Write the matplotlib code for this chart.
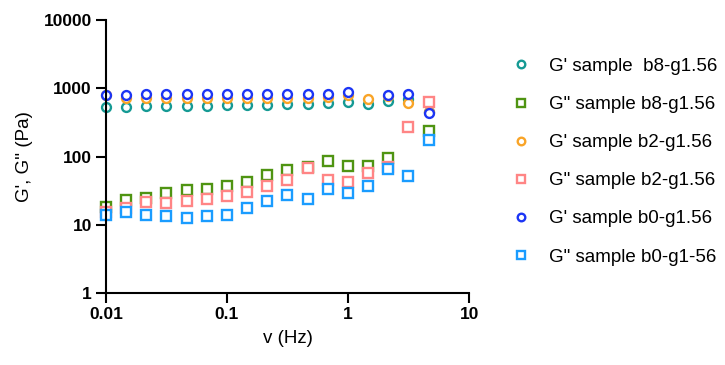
import numpy as np
import matplotlib.pyplot as plt

plt.rcParams['font.family'] = ['Liberation Sans', 'DejaVu Sans']

# frecuencias (Hz)
freq = [0.01, 0.0147, 0.0215, 0.0316, 0.0464, 0.0681, 0.1, 0.147, 0.215,
        0.316, 0.464, 0.681, 1.0, 1.47, 2.15, 3.16, 4.64]

# G' (circulos) y G'' (cuadrados), Pa
gp_b8 = [528, 530, 550, 555, 555, 560, 565, 570, 575, 580, 590, 610, 640, 590, 660, 690, 455]
gpp_b8 = [18, 23, 25, 29, 32, 33, 37, 43, 54, 64, 71, 87, 73, 73, 96, np.nan, 240]
gp_b2 = [800, 715, 715, 715, 715, 720, 720, 720, 720, 725, 730, 740, 800, 700, 770, 600, 455]
gpp_b2 = [15.6, 17.5, 21.8, 21, 22.3, 24, 26.4, 30.5, 37.4, 45.3, 67, 45.3, 42.8, 58, 71, 268, 640]
gp_b0 = [808, 810, 815, 815, 815, 820, 820, 820, 820, 825, 825, 830, 896, np.nan, 790, 830, 440]
gpp_b0 = [13.9, 15.6, 13.9, 13.5, 12.8, 13.5, 13.9, 17.5, 22.3, 27.3, 23.6, 33, 29.6, 37, 65, 52, 175]

series = [
    (gp_b8, 'o', '#159a94', "G' sample  b8-g1.56"),
    (gpp_b8, 's', '#4f9412', 'G" sample b8-g1.56'),
    (gp_b2, 'o', '#f9a427', "G' sample b2-g1.56"),
    (gpp_b2, 's', '#ff8585', 'G" sample b2-g1.56'),
    (gp_b0, 'o', '#1c35f5', "G' sample b0-g1.56"),
    (gpp_b0, 's', '#1a9cff', 'G" sample b0-g1-56'),
]

fig = plt.figure(figsize=(7.25, 3.65), dpi=100)
ax = fig.add_axes([0.146, 0.197, 0.501, 0.748])

for vals, mk, col, lab in series:
    ms = 6.4 if mk == 'o' else 6.6
    ax.plot(freq, vals, linestyle='none', marker=mk, markersize=ms,
            markerfacecolor='white', markeredgecolor=col, markeredgewidth=1.7,
            label=lab, clip_on=False)

ax.set_xscale('log')
ax.set_yscale('log')
ax.set_xlim(0.01, 10)
ax.set_ylim(1, 10000)
ax.set_xticks([0.01, 0.1, 1, 10])
ax.set_xticklabels(['0.01', '0.1', '1', '10'])
ax.set_yticks([1, 10, 100, 1000, 10000])
ax.set_yticklabels(['1', '10', '100', '1000', '10000'])
ax.minorticks_off()

for s in ['top', 'right']:
    ax.spines[s].set_visible(False)
for s in ['left', 'bottom']:
    ax.spines[s].set_linewidth(1.5)
ax.tick_params(axis='both', length=7, width=1.5, labelsize=12.5, pad=3)
for t in ax.get_xticklabels() + ax.get_yticklabels():
    t.set_fontweight('bold')

ax.set_xlabel('v (Hz)', fontsize=13.5, labelpad=6)
ax.set_ylabel("G', G'' (Pa)", fontsize=13.5, labelpad=8)

ax.legend(loc='upper left', bbox_to_anchor=(0.695, 0.862), bbox_transform=fig.transFigure,
          frameon=False, fontsize=13.5, labelspacing=1.12, handletextpad=1.0,
          handlelength=1.0, borderaxespad=0, markerscale=0.85)

fig.savefig('out.png', dpi=100)
